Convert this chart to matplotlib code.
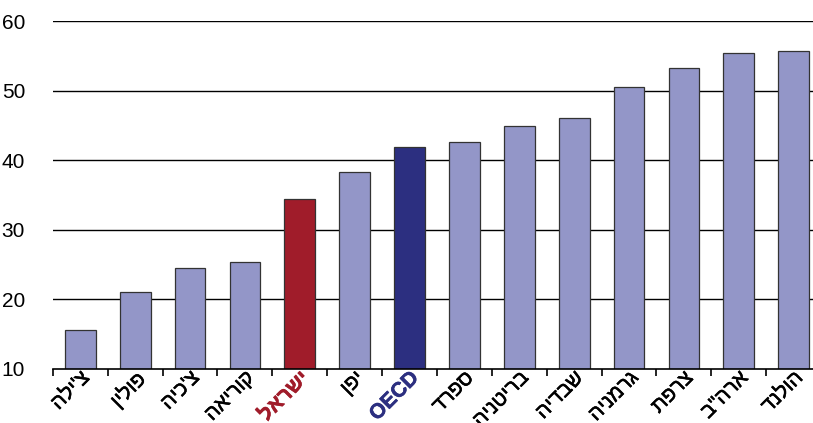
import numpy as np
import matplotlib.pyplot as plt
import matplotlib.patheffects as pe

countries = ["צ'ילה", "פולין", "צ'כיה", "קוריאה", "ישראל", "יפן", "OECD",
             "ספרד", "בריטניה", "שבדיה", "גרמניה", "צרפת", 'ארה"ב', "הולנד"]
values = [15.6, 21.1, 24.5, 25.4, 34.4, 38.3, 41.9, 42.6, 44.9, 46.1, 50.5, 53.2, 55.4, 55.7]

plt.rcParams['font.family'] = ['Liberation Sans', 'DejaVu Sans']

fig = plt.figure(figsize=(8.13, 4.23), dpi=100)
# axes run a bit past the right edge, like the source image
ax = fig.add_axes([0.065, 0.128, 0.945, 0.822])

colors = []
for c in countries:
    if c == "ישראל":
        colors.append('#A01C2A')
    elif c == "OECD":
        colors.append('#2C2F80')
    else:
        colors.append('#9396C8')

x = np.arange(len(countries))
ax.bar(x, values, width=0.56, color=colors, edgecolor='#333333', linewidth=0.9, zorder=3)

ax.set_ylim(10, 60)
ax.set_xlim(-0.5, len(countries) - 0.5)
ax.set_yticks([10, 20, 30, 40, 50, 60])
for yv in [20, 30, 40, 50, 60]:
    ax.axhline(yv, color='black', linewidth=1, zorder=1)

for s in ['top', 'right', 'left']:
    ax.spines[s].set_visible(False)
ax.spines['bottom'].set_linewidth(1.2)
ax.spines['bottom'].set_zorder(4)

ax.tick_params(axis='y', length=0, labelsize=15, pad=20)
ax.set_xticks(np.arange(len(countries) + 1) - 0.5)
ax.set_xticklabels([])
ax.tick_params(axis='x', length=5, width=1.2, direction='out')

# hebrew labels reversed for visual RTL order
for i, c in enumerate(countries):
    lab = c if c == "OECD" else c[::-1]
    col = 'black'
    w = 'normal'
    if c == "ישראל":
        col = '#A01C2A'
        w = 'bold'
    elif c == "OECD":
        col = '#2C2F80'
        w = 'bold'
    fx = [pe.withStroke(linewidth=0.4, foreground=col)]
    ax.text(i - 0.01, 10.1, lab, rotation=45, ha='right', va='top',
            rotation_mode='anchor', fontsize=15, color=col, fontweight=w,
            clip_on=False, path_effects=fx)

fig.savefig('out.png', dpi=100)
